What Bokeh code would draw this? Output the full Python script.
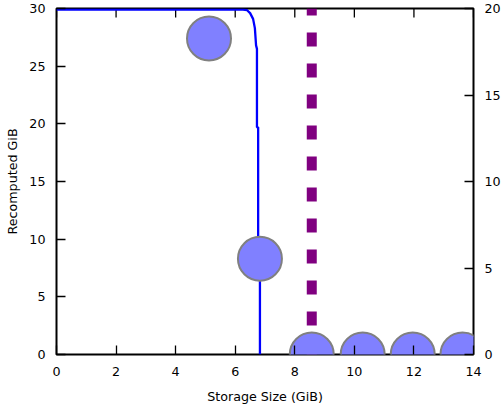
from bokeh.plotting import figure
from bokeh.models import Range1d, LinearAxis, FixedTicker
from bokeh.embed import file_html
from bokeh.resources import INLINE

# data
curve_x = [0.0, 6.26, 6.40, 6.50, 6.60, 6.66, 6.70, 6.73, 6.73, 6.77, 6.77, 6.83, 6.83]
curve_y = [29.9, 29.9, 29.85, 29.6, 29.1, 28.3, 26.8, 26.5, 19.7, 19.7, 9.4, 9.3, 0.0]
point_x = [5.12, 6.83, 8.57, 10.28, 11.96, 13.63]
point_y = [27.4, 8.3, 0.0, 0.0, 0.0, 0.0]
limit_x = 8.57
x_ticks = [0, 2, 4, 6, 8, 10, 12, 14]
y_ticks = [0, 5, 10, 15, 20, 25, 30]
y2_ticks = [0, 5, 10, 15, 20]
y_max = 30

FONT = "DejaVu Sans"
FS = "12.7px"
FRAME_H = 346
TICK = 9

p = figure(width=503, height=406, output_backend="svg", toolbar_location=None,
           x_range=Range1d(0, 14), y_range=Range1d(0, y_max),
           min_border_left=56, min_border_right=29, min_border_top=8, min_border_bottom=52)
p.extra_y_ranges = {"r": Range1d(0, 20)}
p.grid.visible = False
p.outline_line_color = "black"
p.outline_line_width = 2
p.background_fill_color = "white"
p.border_fill_color = "white"

def style(ax):
    ax.major_tick_in = TICK
    ax.major_tick_out = 0
    ax.minor_tick_line_color = None
    ax.major_tick_line_color = "black"
    ax.major_tick_line_width = 1.3
    ax.axis_line_color = None
    ax.major_label_text_font = FONT
    ax.major_label_text_font_size = FS
    ax.major_label_text_color = "black"
    ax.axis_label_text_font = FONT
    ax.axis_label_text_font_size = FS
    ax.axis_label_text_font_style = "normal"
    ax.axis_label_text_color = "black"

xa = p.xaxis[0]
style(xa)
xa.ticker = FixedTicker(ticks=x_ticks)
xa.axis_label = "Storage Size (GiB)"
xa.major_label_standoff = 12
xa.axis_label_standoff = 10

ya = p.yaxis[0]
style(ya)
ya.ticker = FixedTicker(ticks=y_ticks)
ya.axis_label = "Recomputed GiB"
ya.major_label_standoff = 11
ya.axis_label_standoff = 6

ra = LinearAxis(y_range_name="r", ticker=FixedTicker(ticks=y2_ticks))
style(ra)
ra.major_label_standoff = 11
p.add_layout(ra, "right")

# top tick marks (inward)
tick_end = y_max * (1 - TICK / FRAME_H)
p.segment(x0=x_ticks, y0=[y_max] * len(x_ticks), x1=x_ticks, y1=[tick_end] * len(x_ticks),
          line_color="black", line_width=1.3)

p.line(curve_x, curve_y, line_color="#0000ff", line_width=2.3)
p.line([limit_x, limit_x], [y_max, 0], line_color="#800080", line_width=10,
       line_dash="14 17", line_dash_offset=7)
p.scatter(point_x, point_y, size=44, fill_color="#8080ff", fill_alpha=1.0,
          line_color="#808080", line_width=2)

open("out.html", "w").write(file_html(p, INLINE))
